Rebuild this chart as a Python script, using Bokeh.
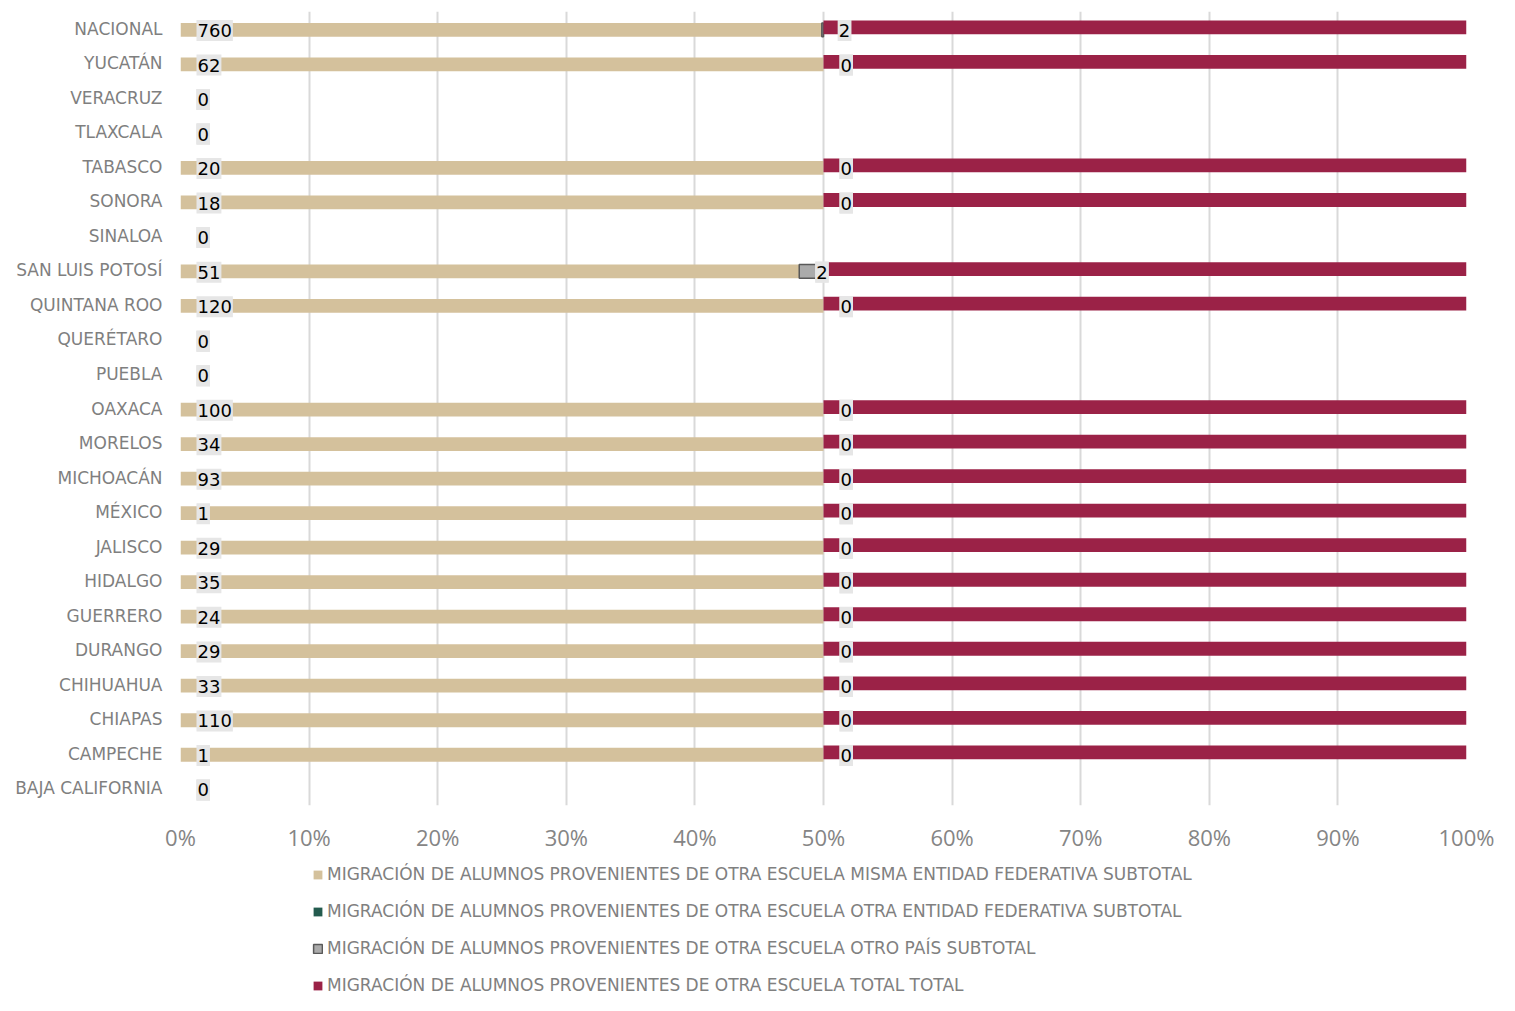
from bokeh.plotting import figure
from bokeh.layouts import column
from bokeh.models import (ColumnDataSource, FactorRange, Range1d, NumeralTickFormatter,
                          FixedTicker, Legend, LegendItem)
from bokeh.transform import dodge
from bokeh.core.properties import value
from bokeh.embed import file_html
from bokeh.resources import INLINE

# ---- data (top to bottom as in the chart) ----
states = ["NACIONAL", "YUCATÁN", "VERACRUZ", "TLAXCALA", "TABASCO", "SONORA", "SINALOA",
          "SAN LUIS POTOSÍ", "QUINTANA ROO", "QUERÉTARO", "PUEBLA", "OAXACA", "MORELOS",
          "MICHOACÁN", "MÉXICO", "JALISCO", "HIDALGO", "GUERRERO", "DURANGO", "CHIHUAHUA",
          "CHIAPAS", "CAMPECHE", "BAJA CALIFORNIA"]
misma_entidad = [760, 62, 0, 0, 20, 18, 0, 51, 120, 0, 0, 100, 34, 93, 1, 29, 35, 24, 29, 33, 110, 1, 0]
otra_entidad = [0, 0, 0, 0, 0, 0, 0, 0, 0, 0, 0, 0, 0, 0, 0, 0, 0, 0, 0, 0, 0, 0, 0]
otro_pais = [2, 0, 0, 0, 0, 0, 0, 2, 0, 0, 0, 0, 0, 0, 0, 0, 0, 0, 0, 0, 0, 0, 0]
total = [762, 62, 0, 0, 20, 18, 0, 53, 120, 0, 0, 100, 34, 93, 1, 29, 35, 24, 29, 33, 110, 1, 0]

series_names = [
    "MIGRACIÓN DE ALUMNOS PROVENIENTES DE OTRA ESCUELA MISMA ENTIDAD FEDERATIVA SUBTOTAL",
    "MIGRACIÓN DE ALUMNOS PROVENIENTES DE OTRA ESCUELA OTRA ENTIDAD FEDERATIVA SUBTOTAL",
    "MIGRACIÓN DE ALUMNOS PROVENIENTES DE OTRA ESCUELA OTRO PAÍS SUBTOTAL",
    "MIGRACIÓN DE ALUMNOS PROVENIENTES DE OTRA ESCUELA TOTAL TOTAL",
]
x_ticks = [0, 0.1, 0.2, 0.3, 0.4, 0.5, 0.6, 0.7, 0.8, 0.9, 1.0]

TAN = "#d4c19c"
GREEN = "#235b4e"
GRAY = "#ababab"
GRAY_LINE = "#595959"
CRIMSON = "#9b2247"
colors = [TAN, GREEN, GRAY, CRIMSON]

# ---- compute 100% stacks ----
cols = [misma_entidad, otra_entidad, otro_pais, total]
n = len(states)
starts = [[0.0] * n for _ in cols]
ends = [[0.0] * n for _ in cols]
for i in range(n):
    den = sum(c[i] for c in cols)
    acc = 0.0
    for k, c in enumerate(cols):
        starts[k][i] = acc
        frac = c[i] / den if den else 0.0
        acc += frac
        ends[k][i] = acc

cats = list(reversed(states))
def rev(a):
    return list(reversed(a))

sources = []
for k, c in enumerate(cols):
    sources.append(ColumnDataSource(dict(
        y=cats, left=rev(starts[k]), right=rev(ends[k]),
        t=[str(v) for v in rev(c)],
        la=[1.0 if v > 0 else 0.0 for v in rev(c)])))

p = figure(width=1499, height=862, y_range=FactorRange(*cats, range_padding=0),
           x_range=Range1d(0, 1), output_backend="svg", toolbar_location=None,
           min_border_left=180, min_border_right=33, min_border_top=11, min_border_bottom=57)
p.outline_line_color = None
p.background_fill_color = "white"
p.border_fill_color = "white"

# grid
p.ygrid.grid_line_color = None
p.xgrid.grid_line_color = "#d9d9d9"
p.xgrid.grid_line_width = 2
p.xgrid.ticker = FixedTicker(ticks=x_ticks)

# axes
p.xaxis.ticker = FixedTicker(ticks=x_ticks)
p.xaxis.formatter = NumeralTickFormatter(format="0%")
p.xaxis.axis_line_color = None
p.xaxis.major_tick_line_color = None
p.xaxis.minor_tick_line_color = None
p.xaxis.major_label_standoff = 10
p.xaxis.major_label_text_font = "Open Sans"
p.xaxis.major_label_text_font_size = "22px"
p.xaxis.major_label_text_color = "#858585"

p.yaxis.axis_line_color = None
p.yaxis.major_tick_line_color = None
p.yaxis.minor_tick_line_color = None
p.yaxis.major_label_standoff = 12
p.yaxis.major_label_text_font = "DejaVu Sans"
p.yaxis.major_label_text_font_size = "17px"
p.yaxis.major_label_text_color = "#7f7f7f"

H = 0.4
yb = dodge("y", -0.03, range=p.y_range)
yt = dodge("y", 0.04, range=p.y_range)
p.hbar(y=yb, left="left", right="right", height=H, source=sources[0],
       fill_color=TAN, line_color=None)
p.hbar(y=yb, left="left", right="right", height=H, source=sources[1],
       fill_color=GREEN, line_color=None)
p.hbar(y=yb, left="left", right="right", height=H, source=sources[2],
       fill_color=GRAY, fill_alpha="la", line_color=GRAY_LINE, line_alpha="la", line_width=1.5)
p.hbar(y=yt, left="left", right="right", height=H, source=sources[3],
       fill_color=CRIMSON, line_color=None)

# data labels (inside base) for first three series
yl = dodge("y", -0.05, range=p.y_range)
for k in range(3):
    p.text(x="left", y=yl, text="t", source=sources[k], x_offset=16,
           text_align="left", text_baseline="middle",
           text_font=value("DejaVu Sans"), text_font_size="18px", text_color="black",
           background_fill_color="#e6e6e6", padding=(1, 4))

# ---- legend in its own strip below ----
nan = float("nan")
lg = figure(width=1499, height=133, x_range=Range1d(0, 1), y_range=Range1d(0, 1),
            output_backend="svg", toolbar_location=None, x_axis_type=None, y_axis_type=None,
            min_border=0)
lg.outline_line_color = None
lg.xgrid.visible = False
lg.ygrid.visible = False
items = []
for k in range(4):
    r = lg.hbar(y=[nan], left=[nan], right=[nan], height=0.1, fill_color=colors[k],
                line_color=GRAY_LINE if k == 2 else None, line_width=1.5)
    items.append(LegendItem(label=series_names[k], renderers=[r]))
legend = Legend(items=items, orientation="vertical", location=(132, 0), margin=0, padding=0,
                spacing=17, glyph_width=11, glyph_height=11, label_height=18, label_standoff=4,
                label_text_font="DejaVu Sans", label_text_font_size="17px",
                label_text_color="#808080", border_line_color=None, background_fill_alpha=0)
lg.add_layout(legend, "center")

open("out.html", "w").write(file_html(column(p, lg), INLINE))
